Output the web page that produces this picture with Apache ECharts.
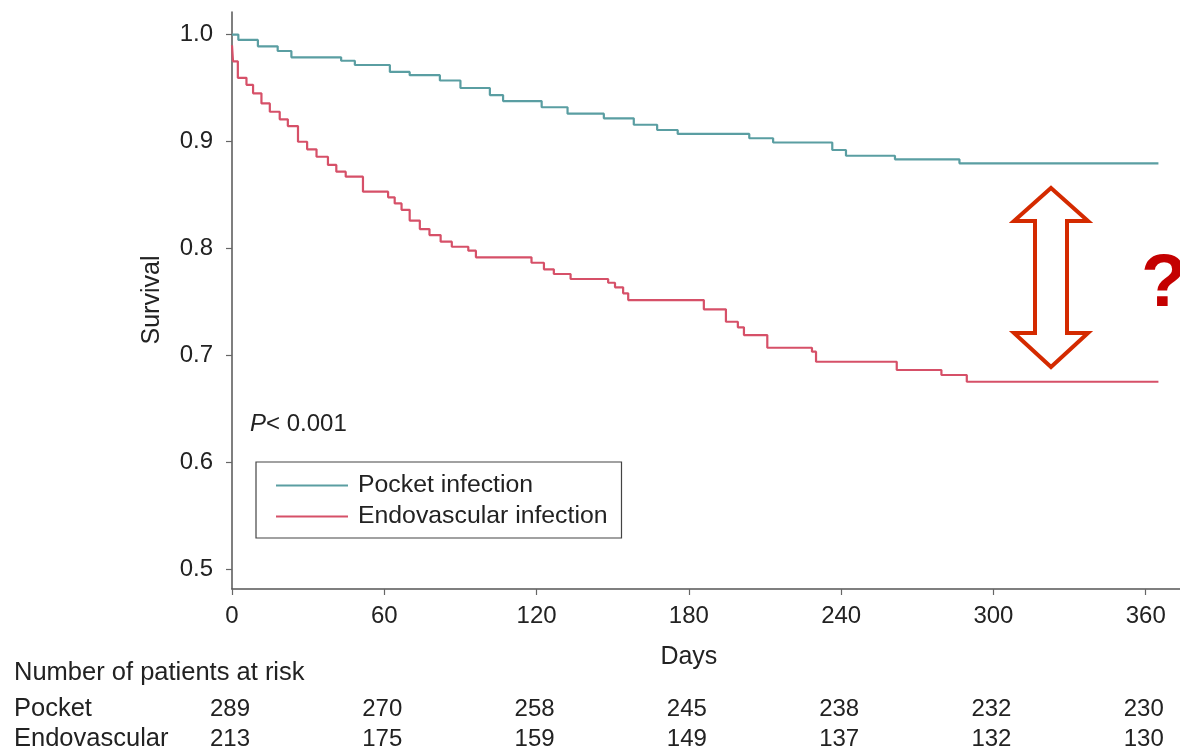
<!DOCTYPE html>
<html>
<head>
<meta charset="utf-8">
<script src="https://cdn.jsdelivr.net/npm/echarts@6/dist/echarts.min.js"></script>
<style>
html,body{margin:0;padding:0;background:#fff;}
#c{width:1180px;height:751px;}
</style>
</head>
<body>
<div id="c"></div>
<script>
// ---- data ----
const xTicks = [0, 60, 120, 180, 240, 300, 360];
const yTicks = [0.5, 0.6, 0.7, 0.8, 0.9, 1.0];
const seriesNames = ['Pocket infection', 'Endovascular infection'];
const riskLabels = ['Pocket', 'Endovascular'];
const pocketAtRisk = [289, 270, 258, 245, 238, 232, 230];
const endoAtRisk = [213, 175, 159, 149, 137, 132, 130];

const pocketDays = [0, 2.5, 10.2, 18, 23.4, 43, 48.4, 62.2, 70, 81.9, 90, 101.6, 106.8, 122, 132.2, 146.5, 158.3, 167.5, 175.6, 203.8, 213.2, 236.5, 241.9, 261.2, 286.6, 365];
const pocketSurv = [1.0, 0.995, 0.989, 0.9846, 0.9787, 0.9755, 0.9715, 0.965, 0.962, 0.957, 0.950, 0.9434, 0.9378, 0.932, 0.926, 0.9216, 0.9156, 0.9107, 0.907, 0.903, 0.899, 0.892, 0.8866, 0.8833, 0.8795, 0.8795];

const endoDays = [0, 0.4, 2.3, 5.7, 8.3, 11.6, 14.9, 18.8, 22, 26, 29.6, 33.3, 37.8, 41.1, 44.8, 51.6, 61.5, 64.1, 66.8, 70, 74, 77.8, 82.2, 86.6, 93.1, 96.1, 118, 122.9, 126.8, 133.4, 148.2, 150.9, 154.1, 156.1, 185.9, 194.6, 199.3, 201.7, 210.9, 228.5, 230.1, 261.9, 279.5, 289.5, 365];
const endoSurv = [0.990, 0.975, 0.9595, 0.953, 0.945, 0.9356, 0.9278, 0.9207, 0.9144, 0.8997, 0.8926, 0.8857, 0.878, 0.8717, 0.867, 0.853, 0.8477, 0.842, 0.836, 0.826, 0.818, 0.8124, 0.8062, 0.8015, 0.7978, 0.7916, 0.7865, 0.7804, 0.776, 0.7713, 0.7678, 0.7635, 0.7579, 0.7516, 0.7429, 0.7313, 0.7261, 0.7189, 0.707, 0.7033, 0.6939, 0.6862, 0.6815, 0.6752, 0.6752];

// ---- chart ----
const FONT = '"Liberation Sans", Arial, Helvetica, sans-serif';
const TXT = '#222';
const TEAL = '#5a9ea2';
const RED = '#d65068';
const zip = (a, b) => a.map((v, i) => [v, b[i]]);

const chart = echarts.init(document.getElementById('c'), null, {renderer: 'canvas'});
chart.setOption({
  animation: false,
  backgroundColor: '#fff',
  textStyle: {fontFamily: FONT},
  grid: {left: 232, right: 0, top: 12, bottom: 162, containLabel: false},
  xAxis: {
    type: 'value', min: 0, max: 373.5,
    axisLine: {lineStyle: {color: '#555', width: 1.5}},
    axisTick: {customValues: xTicks, length: 6, lineStyle: {color: '#666', width: 1.2}},
    axisLabel: {customValues: xTicks, margin: 15, fontSize: 24, color: TXT, fontFamily: FONT},
    splitLine: {show: false}
  },
  yAxis: {
    type: 'value', min: 0.4813, max: 1.0211,
    axisLine: {show: true, lineStyle: {color: '#555', width: 1.5}},
    axisTick: {show: true, customValues: yTicks, length: 6, lineStyle: {color: '#666', width: 1.2}},
    axisLabel: {customValues: yTicks, margin: 19, fontSize: 24, color: TXT, fontFamily: FONT,
      formatter: v => v.toFixed(1)},
    splitLine: {show: false}
  },
  legend: {
    data: seriesNames,
    orient: 'vertical', left: 256, top: 462,
    icon: 'rect', itemWidth: 72, itemHeight: 2, itemGap: 6,
    padding: [11, 14, 9, 20],
    borderColor: '#444', borderWidth: 1.2,
    textStyle: {fontSize: 24.8, lineHeight: 24, color: TXT, fontFamily: FONT, padding: [0, 0, 0, 5]}
  },
  series: [
    {name: seriesNames[0], type: 'line', step: 'end', showSymbol: false, symbol: 'none',
     lineStyle: {color: TEAL, width: 2.2}, itemStyle: {color: TEAL}, data: zip(pocketDays, pocketSurv)},
    {name: seriesNames[1], type: 'line', step: 'end', showSymbol: false, symbol: 'none',
     lineStyle: {color: RED, width: 2.2}, itemStyle: {color: RED}, data: zip(endoDays, endoSurv)}
  ]
});

// ---- annotations & risk table ----
const px = d => chart.convertToPixel({xAxisIndex: 0}, d);
const gfx = [];
gfx.push({type: 'text', x: 152, y: 300, rotation: Math.PI / 2,
  style: {text: 'Survival', font: '25px ' + FONT, fill: TXT, align: 'center', verticalAlign: 'middle'}});
gfx.push({type: 'text', x: px(180), y: 657,
  style: {text: 'Days', font: '25px ' + FONT, fill: TXT, align: 'center', verticalAlign: 'middle'}});
gfx.push({type: 'text', x: 250, y: 424,
  style: {text: '{p|P}{r|< 0.001}', fill: TXT, verticalAlign: 'middle', align: 'left',
    rich: {p: {fontStyle: 'italic', fontSize: 24, fontFamily: FONT, fill: TXT, color: TXT},
           r: {fontSize: 24, fontFamily: FONT, fill: TXT, color: TXT}}}});
gfx.push({type: 'text', x: 14, y: 673,
  style: {text: 'Number of patients at risk', font: '25.5px ' + FONT, fill: TXT, align: 'left', verticalAlign: 'middle'}});
const rowY = [709, 739];
[pocketAtRisk, endoAtRisk].forEach((row, r) => {
  gfx.push({type: 'text', x: 14, y: rowY[r],
    style: {text: riskLabels[r], font: '25.5px ' + FONT, fill: TXT, align: 'left', verticalAlign: 'middle'}});
  row.forEach((n, i) => {
    gfx.push({type: 'text', x: px(xTicks[i]) - 2, y: rowY[r],
      style: {text: String(n), font: '24px ' + FONT, fill: TXT, align: 'center', verticalAlign: 'middle'}});
  });
});
// double arrow outline
gfx.push({type: 'polygon', shape: {points: [
  [1051, 188], [1088, 221], [1067, 221], [1067, 333], [1088, 333],
  [1051, 367], [1014, 333], [1035, 333], [1035, 221], [1014, 221]]},
  style: {fill: 'none', stroke: '#d42a00', lineWidth: 4, lineJoin: 'miter'}});
gfx.push({type: 'text', x: 1141, y: 285,
  style: {text: '?', font: 'bold 75px ' + FONT, fill: '#c40000', align: 'left', verticalAlign: 'middle'}});
chart.setOption({graphic: gfx});
</script>
</body>
</html>
